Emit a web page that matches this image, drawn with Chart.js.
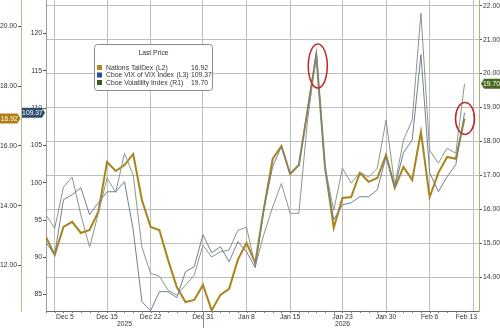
<!DOCTYPE html>
<html>
<head>
<meta charset="utf-8">
<script src="https://cdn.jsdelivr.net/npm/chart.js@4.4.1/dist/chart.umd.min.js"></script>
<style>
  html, body { margin: 0; padding: 0; background: #fff; }
</style>
</head>
<body>
<canvas id="chart" width="500" height="328"></canvas>
<script>
// x axis: which observation carries a date label
const xTickIndex = [1, 7, 12, 18, 23, 28, 34, 39, 44, 49];
const xTickText = ["Dec 5", "Dec 15", "Dec 22", "Dec 31", "Jan 8", "Jan 15", "Jan 23", "Jan 30", "Feb 6", "Feb 13"];
const yearText = ["2025", "2026"];
const yearIndex = [9, 34];

const seriesNames = ["Nations TailDex", "Cboe VIX of VIX Index", "Cboe Volatility Index"];
const seriesAxes = ["(L2)", "(L3)", "(R1)"];

const tailDex = [12.96, 12.35, 13.29, 13.46, 13.09, 13.19, 13.79, 15.46, 15.16, 15.36,
  15.73, 14.19, 13.29, 13.19, 12.19, 11.28, 10.78, 10.85, 11.35, 10.50,
  11.02, 11.22, 12.19, 12.76, 12.09, 13.93, 15.57, 16.00, 15.06, 15.36,
  17.20, 19.04, 15.30, 13.26, 14.26, 14.29, 15.10, 14.80, 14.93, 15.70,
  14.60, 15.30, 14.86, 16.47, 14.29, 15.10, 15.63, 15.57, 16.92];

const vvix = [91.96, 90.35, 97.72, 98.39, 99.33, 95.71, 97.32, 98.79, 98.79, 100.13,
  93.70, 84.05, 82.84, 85.39, 85.39, 84.58, 88.07, 88.74, 93.03, 90.62,
  91.42, 89.41, 92.09, 90.75, 88.61, 96.51, 102.18, 104.87, 101.21, 102.41,
  109.79, 117.43, 101.74, 95.04, 97.05, 97.32, 98.12, 98.12, 99.06, 103.49,
  99.46, 104.02, 105.76, 117.16, 101.34, 98.79, 100.80, 102.41, 109.37];

const vix = [15.83, 15.44, 16.65, 16.95, 15.83, 14.88, 15.88, 16.92, 16.50, 17.65,
  17.01, 14.88, 14.11, 14.03, 13.61, 13.47, 13.76, 14.06, 14.94, 14.59,
  14.74, 14.80, 15.38, 15.47, 14.32, 15.27, 16.07, 16.76, 15.88, 15.88,
  18.63, 20.55, 17.24, 15.97, 17.21, 16.77, 17.09, 16.95, 17.21, 18.63,
  16.71, 18.04, 18.63, 21.78, 17.74, 17.36, 17.80, 17.65, 19.70];

const l2Ticks = [12, 14, 16, 18, 20];
const l3Ticks = [85, 90, 95, 100, 105, 110, 115, 120];
const r1Ticks = [14, 15, 16, 17, 18, 19, 20, 21, 22];

const FONT = '"Liberation Sans", Arial, sans-serif';
const GOLD = "#a8841c";
const GRID = "#bdbdbd";

Chart.defaults.font.family = FONT;
Chart.defaults.font.size = 6.8;
Chart.defaults.color = "#333";

const toPoints = (arr) => arr.map((v, i) => ({ x: i, y: v }));
const last = (arr) => arr[arr.length - 1];

// fixed axis boxes, no extra room for half-labels at the ends
const fixBox = (w, h) => (s) => {
  if (w) s.width = w;
  if (h) s.height = h;
  s.paddingTop = 0; s.paddingBottom = 0; s.paddingLeft = 0; s.paddingRight = 0;
};

function tag(ctx, text, xl, xr, y, fill, dir) {
  const h = 10, n = 3;
  ctx.fillStyle = fill;
  ctx.beginPath();
  if (dir === "right") {
    ctx.moveTo(xl, y - h / 2); ctx.lineTo(xr - n, y - h / 2); ctx.lineTo(xr, y);
    ctx.lineTo(xr - n, y + h / 2); ctx.lineTo(xl, y + h / 2);
  } else {
    ctx.moveTo(xr, y - h / 2); ctx.lineTo(xl + n, y - h / 2); ctx.lineTo(xl, y);
    ctx.lineTo(xl + n, y + h / 2); ctx.lineTo(xr, y + h / 2);
  }
  ctx.closePath();
  ctx.fill();
  ctx.fillStyle = "#fff";
  ctx.textAlign = "center";
  ctx.textBaseline = "middle";
  ctx.fillText(text, (xl + xr) / 2 + (dir === "right" ? -1 : 1), y + 0.5);
}

const extras = {
  id: "extras",
  afterDraw(chart) {
    const { ctx, chartArea: a, scales } = chart;
    const xs = scales.x;
    ctx.save();
    ctx.font = `6.8px ${FONT}`;

    // small ticks under the x axis, one per observation
    ctx.strokeStyle = "#777";
    ctx.lineWidth = 1;
    for (let i = 0; i < tailDex.length; i++) {
      const px = Math.round(xs.getPixelForValue(i)) + 0.5;
      ctx.beginPath(); ctx.moveTo(px, a.bottom); ctx.lineTo(px, a.bottom + 2); ctx.stroke();
    }

    // date labels, kept inside the plot width
    ctx.fillStyle = "#333";
    ctx.textAlign = "left";
    ctx.textBaseline = "middle";
    xTickIndex.forEach((idx, k) => {
      const w = ctx.measureText(xTickText[k]).width;
      let left = xs.getPixelForValue(idx) - w / 2;
      left = Math.max(left, a.left + 10);
      left = Math.min(left, a.right - 2 - w);
      ctx.fillText(xTickText[k], left, a.bottom + 6);
    });

    // year labels and the year divider
    ctx.textAlign = "center";
    yearText.forEach((t, k) => ctx.fillText(t, xs.getPixelForValue(yearIndex[k]), a.bottom + 13));
    const dx = Math.round(xs.getPixelForValue(xTickIndex[3])) + 0.5;
    ctx.strokeStyle = "#888";
    ctx.beginPath(); ctx.moveTo(dx, a.bottom); ctx.lineTo(dx, chart.height); ctx.stroke();

    // last value tags on the axes
    tag(ctx, last(tailDex).toFixed(2), 0, 20.5, scales.l2.getPixelForValue(last(tailDex)), "#b07d16", "right");
    tag(ctx, last(vvix).toFixed(2), 22, 45, scales.l3.getPixelForValue(last(vvix)), "#2f4d6e", "right");
    tag(ctx, last(vix).toFixed(2), 481, 500, scales.r1.getPixelForValue(last(vix)), "#4a6a1e", "left");

    // red call-out ellipses
    ctx.strokeStyle = "#c0282d";
    ctx.lineWidth = 1.5;
    const peak = 31, end = tailDex.length - 1;
    ctx.beginPath();
    ctx.ellipse(xs.getPixelForValue(peak) + 1.5, scales.l2.getPixelForValue(tailDex[peak]) + 11, 9.5, 22, 0, 0, Math.PI * 2);
    ctx.stroke();
    ctx.beginPath();
    ctx.ellipse(xs.getPixelForValue(end) + 0.5, scales.l2.getPixelForValue(tailDex[end]), 9.5, 16, 0, 0, Math.PI * 2);
    ctx.stroke();

    // legend box
    ctx.font = `6.8px ${FONT}`;
    ctx.lineWidth = 1;
    ctx.fillStyle = "#fff";
    ctx.strokeStyle = "#8a8a8a";
    ctx.beginPath();
    ctx.roundRect(94.5, 44.5, 118, 46, 3);
    ctx.fill();
    ctx.stroke();
    ctx.fillStyle = "#333";
    ctx.textAlign = "center";
    ctx.fillText("Last Price", 153.5, 53.5);
    const swatch = ["#a88a28", "#2850a0", "#3a5a20"];
    const lastVals = [last(tailDex), last(vvix), last(vix)];
    seriesNames.forEach((name, k) => {
      const y = 67.5 + k * 7.5;
      ctx.fillStyle = swatch[k];
      ctx.fillRect(97, y - 2.5, 5, 5);
      ctx.fillStyle = "#333";
      ctx.textAlign = "left";
      ctx.fillText(name, 106, y + 0.5);
      ctx.fillText(seriesAxes[k], 106 + ctx.measureText(name).width + 2.5, y + 0.5);
      ctx.fillText(lastVals[k].toFixed(2), 191, y + 0.5);
    });
    ctx.restore();
  }
};

new Chart(document.getElementById("chart").getContext("2d"), {
  type: "line",
  data: {
    datasets: [
      { label: seriesNames[0], data: toPoints(tailDex), yAxisID: "l2", borderColor: GOLD, borderWidth: 2, order: 3 },
      { label: seriesNames[1], data: toPoints(vvix), yAxisID: "l3", borderColor: "#6f7f96", borderWidth: 1, order: 1 },
      { label: seriesNames[2], data: toPoints(vix), yAxisID: "r1", borderColor: "#889884", borderWidth: 1, order: 2 }
    ]
  },
  options: {
    responsive: false,
    animation: false,
    layout: { padding: 0 },
    elements: { point: { radius: 0 }, line: { tension: 0 } },
    plugins: { legend: { display: false }, tooltip: { enabled: false } },
    scales: {
      x: {
        type: "linear",
        min: 0,
        max: 49.66,
        afterBuildTicks: (s) => { s.ticks = xTickIndex.map((v) => ({ value: v })); },
        afterFit: fixBox(0, 17),
        ticks: { display: false },
        grid: { color: GRID, borderDash: [2, 2], tickLength: 0 },
        border: { color: "#666" }
      },
      l2: {
        position: "left",
        weight: 10,
        min: 10.48,
        max: 20.88,
        afterBuildTicks: (s) => { s.ticks = l2Ticks.map((v) => ({ value: v })); },
        afterFit: fixBox(21, 0),
        ticks: { padding: 1, callback: (v) => v.toFixed(2) },
        grid: { drawOnChartArea: false, tickLength: 3, color: "#555" },
        border: { color: "#c9b47c" }
      },
      l3: {
        position: "left",
        weight: 0,
        min: 82.8,
        max: 124.5,
        afterBuildTicks: (s) => { s.ticks = l3Ticks.map((v) => ({ value: v })); },
        afterFit: fixBox(25, 0),
        ticks: { padding: 1, callback: (v) => String(v) },
        grid: { drawOnChartArea: false, tickLength: 3, color: "#555" },
        border: { color: "#9a9a9a" }
      },
      r1: {
        position: "right",
        min: 13.0,
        max: 22.17,
        afterBuildTicks: (s) => { s.ticks = r1Ticks.map((v) => ({ value: v })); },
        afterFit: fixBox(21, 0),
        ticks: { padding: 1, callback: (v) => v.toFixed(2) },
        grid: { color: GRID, borderDash: [2, 2], tickLength: 3, tickColor: "#555", tickBorderDash: [] },
        border: { color: "#b5b07a" }
      }
    }
  },
  plugins: [extras]
});
</script>
</body>
</html>
